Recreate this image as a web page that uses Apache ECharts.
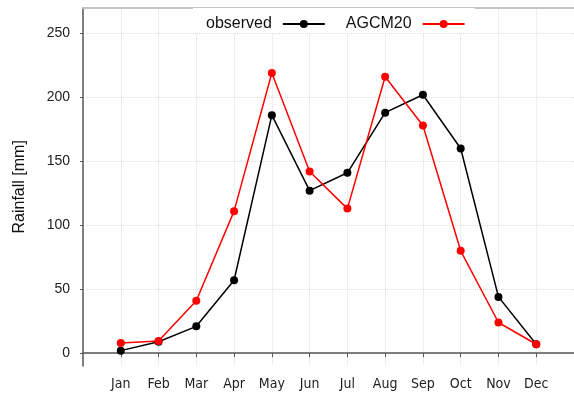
<!DOCTYPE html>
<html>
<head>
<meta charset="utf-8">
<script src="https://cdn.jsdelivr.net/npm/echarts@6/dist/echarts.min.js"></script>
<style>
  html, body { margin: 0; padding: 0; background: #fff; }
  #chart { width: 574px; height: 398px; }
</style>
</head>
<body>
<div id="chart"></div>
<script>
// Monthly rainfall climatology: observations vs. AGCM20 simulation
const months = ['Jan', 'Feb', 'Mar', 'Apr', 'May', 'Jun', 'Jul', 'Aug', 'Sep', 'Oct', 'Nov', 'Dec'];
const observed = [2, 9, 21, 57, 186, 127, 141, 188, 202, 160, 44, 7];
const agcm20 = [8, 9.5, 41, 111, 219, 142, 113, 216, 178, 80, 24, 7];
const yTicks = [0, 50, 100, 150, 200, 250];
const monthPositions = months.map((m, i) => i + 1);

const chart = echarts.init(document.getElementById('chart'), null, { renderer: 'canvas' });

const axisDark = '#555555';
const gridColor = '#dddddd';

chart.setOption({
  animation: false,
  backgroundColor: '#ffffff',
  grid: { left: 83, right: -9.5, top: 7.7, bottom: 32 },
  legend: {
    data: ['observed', 'AGCM20'],
    align: 'right',
    left: 193,
    top: 8,
    padding: [8, 9, 1, 13],
    itemWidth: 42,
    itemHeight: 10,
    itemGap: 20,
    backgroundColor: '#ffffff',
    textStyle: { fontFamily: 'Liberation Sans', fontSize: 16, color: '#111', padding: [0, 6, 0, 0] }
  },
  xAxis: [
    {
      type: 'value',
      min: 0,
      max: 13,
      position: 'bottom',
      axisLine: { show: true, lineStyle: { color: axisDark, width: 1.5 } },
      axisTick: { show: true, customValues: monthPositions, length: 4, lineStyle: { color: axisDark } },
      axisLabel: {
        customValues: monthPositions,
        formatter: v => months[Math.round(v) - 1] || '',
        fontFamily: '"DejaVu Sans Condensed", "Liberation Sans", sans-serif',
        fontSize: 14,
        color: '#222',
        margin: 11
      },
      splitLine: { show: true, lineStyle: { type: 'dotted', color: gridColor, width: 1 } }
    },
    {
      type: 'value',
      min: 0,
      max: 13,
      position: 'top',
      axisLine: { show: true, lineStyle: { color: '#c4c4c4', width: 2 } },
      axisTick: { show: false },
      axisLabel: { show: false },
      splitLine: { show: false }
    }
  ],
  yAxis: {
    type: 'value',
    min: -10,
    max: 270,
    name: 'Rainfall [mm]',
    nameLocation: 'middle',
    nameGap: 55,
    nameTextStyle: { fontFamily: 'Liberation Sans', fontSize: 16, color: '#111' },
    axisLine: { show: true, lineStyle: { color: axisDark, width: 1.5 } },
    axisTick: { show: true, customValues: yTicks, length: 3, lineStyle: { color: axisDark } },
    axisLabel: {
      customValues: yTicks,
      fontFamily: 'Liberation Sans',
      fontSize: 14,
      color: '#222',
      margin: 13
    },
    splitLine: { show: true, lineStyle: { type: 'dotted', color: gridColor, width: 1 } }
  },
  series: [
    {
      name: 'observed',
      type: 'line',
      data: observed.map((v, i) => [monthPositions[i], v]),
      symbol: 'circle',
      symbolSize: 8,
      lineStyle: { color: '#000', width: 1.5 },
      itemStyle: { color: '#000' }
    },
    {
      name: 'AGCM20',
      type: 'line',
      data: agcm20.map((v, i) => [monthPositions[i], v]),
      symbol: 'circle',
      symbolSize: 8,
      lineStyle: { color: '#ff0000', width: 1.5 },
      itemStyle: { color: '#ff0000' }
    }
  ]
});
</script>
</body>
</html>
